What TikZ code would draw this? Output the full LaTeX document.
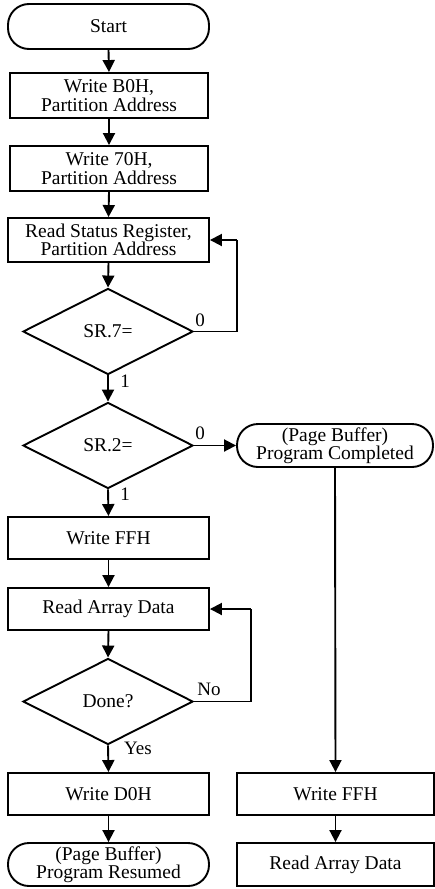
\documentclass[tikz,border=0pt]{standalone}
\usepackage{fontspec}
\setmainfont{Liberation Serif}
\usetikzlibrary{arrows.meta,shapes.geometric}
\begin{document}
\begin{tikzpicture}[x=1pt,y=1pt,
  base/.style={draw=black,line width=1.9pt,inner sep=0pt,align=center,
    font=\fontsize{19.5}{18.5}\selectfont},
  proc/.style={base,rectangle,minimum width=200pt,minimum height=43pt},
  term/.style={base,rectangle,rounded corners=21pt,minimum width=200pt,minimum height=44pt},
  dec/.style={base,diamond,aspect=2,minimum width=170pt,minimum height=86pt},
  lbl/.style={font=\fontsize{19}{19}\selectfont,inner sep=0pt},
  arr/.style={line width=1.9pt,-{Triangle[length=12pt,width=12pt]}},
  ln/.style={line width=1.9pt}]
\useasboundingbox (0,0) rectangle (435,-889);
\node[term,minimum width=201pt,minimum height=45pt] (start) at (108.5,-26.5) {Start};
\node[proc,minimum width=198pt,minimum height=45pt] (b0h) at (109,-95.5) {Write B0H,\\Partition Address};
\node[proc,minimum width=198pt,minimum height=45pt] (s70h) at (109,-168.5) {Write 70H,\\Partition Address};
\node[proc,minimum width=201pt,minimum height=44pt] (rsr) at (108.5,-240) {Read Status Register,\\Partition Address};
\node[dec] (sr7) at (108,-331.5) {SR.7=};
\node[dec] (sr2) at (108,-445.5) {SR.2=};
\node[term,minimum width=196pt,minimum height=43pt] (pc) at (335,-445.5) {(Page Buffer)\\Program Completed};
\node[proc,minimum width=201pt,minimum height=42pt] (ffh) at (108.5,-538) {Write FFH};
\node[proc,minimum width=201pt,minimum height=42pt] (rad) at (108.5,-609) {Read Array Data};
\node[dec] (done) at (108,-701.5) {Done?};
\node[proc,minimum width=201pt,minimum height=42pt] (d0h) at (108.5,-794) {Write D0H};
\node[term,minimum width=201pt,minimum height=43pt] (pr) at (108.5,-864.5) {(Page Buffer)\\Program Resumed};
\node[proc,minimum width=197pt,minimum height=42pt] (ffh2) at (335.5,-794) {Write FFH};
\node[proc,minimum width=197pt,minimum height=43pt] (rad2) at (335.5,-864.5) {Read Array Data};
\coordinate (c7) at (237,-331.5);
\coordinate (c7t) at (237,-240);
\coordinate (cd) at (251,-701.5);
\coordinate (cdt) at (251,-609);
\draw[arr] (start.south) -- (b0h.north);
\draw[arr] (b0h.south) -- (s70h.north);
\draw[arr] (s70h.south) -- (rsr.north);
\draw[arr] (rsr.south) -- (sr7.north);
\draw[arr] (sr7.south) -- (sr2.north);
\draw[ln] (sr7.east) -- (c7) -- (c7t);
\draw[arr] (c7t) -- (rsr.east);
\draw[arr] (sr2.east) -- (pc.west);
\draw[arr] (sr2.south) -- (ffh.north);
\draw[arr] (ffh.south) -- (rad.north);
\draw[arr] (rad.south) -- (done.north);
\draw[ln] (done.east) -- (cd) -- (cdt);
\draw[arr] (cdt) -- (rad.east);
\draw[arr] (done.south) -- (d0h.north);
\draw[arr] (d0h.south) -- (pr.north);
\draw[arr] (pc.south) -- (ffh2.north);
\draw[arr] (ffh2.south) -- (rad2.north);
\node[lbl] (l0a) at (200,-320) {0};
\node[lbl] (l1a) at (125,-381) {1};
\node[lbl] (l0b) at (200,-433) {0};
\node[lbl] (l1b) at (125,-494) {1};
\node[lbl] (lno) at (209,-689) {No};
\node[lbl] (lyes) at (138,-748) {Yes};
\end{tikzpicture}
\end{document}
